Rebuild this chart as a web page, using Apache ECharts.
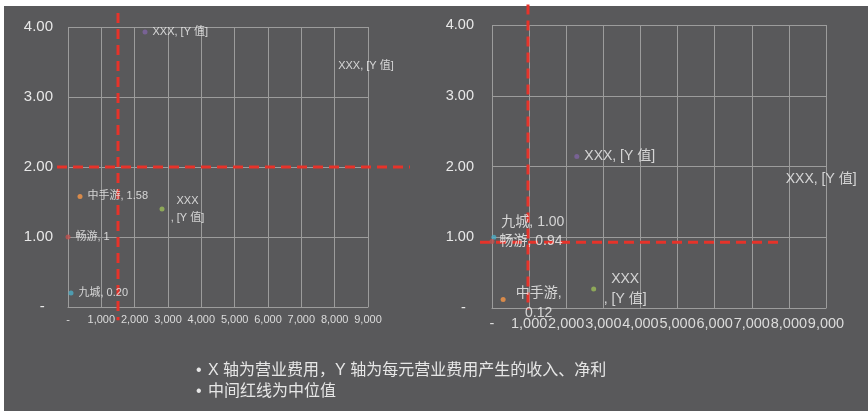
<!DOCTYPE html>
<html>
<head>
<meta charset="utf-8">
<script src="https://cdn.jsdelivr.net/npm/echarts@6/dist/echarts.min.js"></script>
<style>
html,body{margin:0;padding:0;background:#fff;}
#c{width:868px;height:411px;}
</style>
</head>
<body>
<div id="c"></div>
<script>
// ---- data ----
const pointColors = ['#4bacc6', '#c0504d', '#f79646', '#9bbb59', '#8064a2', '#4f81bd'];
const leftNames  = ['九城', '畅游', '中手游', 'XXX', 'XXX', 'XXX'];
const leftX      = [90, 0, 360, 2820, 2310, 8940];
const leftY      = [0.20, 1.00, 1.58, 1.40, 3.93, 3.44];
const leftLabels = ['九城, 0.20', '畅游, 1', '中手游, 1.58', 'XXX\n, [Y 值]', 'XXX, [Y 值]', 'XXX, [Y 值]'];
const rightNames  = ['九城', '畅游', '中手游', 'XXX', 'XXX', 'XXX'];
const rightX      = [50, 0, 300, 2740, 2285, 8870];
const rightY      = [1.00, 0.94, 0.12, 0.27, 2.14, 1.82];
const rightLabels = ['九城, 1.00', '畅游, 0.94', '中手游,\n0.12', 'XXX\n, [Y 值]', 'XXX, [Y 值]', 'XXX, [Y 值]'];
const leftMedianX = 1500, leftMedianY = 2.00;
const rightMedianX = 970, rightMedianY = 0.93;
const xMin = 0, xMax = 9000, xStep = 1000;
const yMin = 0, yMax = 4, yStep = 1;
const notes = ['X 轴为营业费用，Y 轴为每元营业费用产生的收入、净利', '中间红线为中位值'];

// ---- styles ----
const FONT = '"Liberation Sans", "Noto Sans CJK SC", sans-serif';
const BG = '#59595b';
const GRIDC = '#9c9c9c';
const RED = '#e6332a';

function xFmt(v){ return v === 0 ? '-' : v.toLocaleString('en-US'); }
function yFmt(v){ return v === 0 ? '-  ' : v.toFixed(2); }

const leftLabelCfg = [
  {position:'right', distance:5},
  {position:'right', distance:5},
  {position:'right', distance:5},
  {position:'right', distance:5, align:'center', offset:[18,0]},
  {position:'right', distance:5},
  {position:'inside'}
];
const rightLabelCfg = [
  {position:'right', distance:5, offset:[0,-15]},
  {position:'right', distance:5},
  {position:'right', distance:5, align:'center', offset:[28,4]},
  {position:'right', distance:5, align:'center', offset:[24,0]},
  {position:'right', distance:5},
  {position:'inside'}
];

function buildPoints(xs, ys, names, labels, cfg, fontSize, lh){
  return xs.map((x, i) => ({
    name: names[i],
    value: [x, ys[i]],
    symbolSize: i === 5 ? 0 : 5,
    itemStyle: {color: pointColors[i]},
    label: Object.assign({
      show: true,
      formatter: labels[i],
      color: '#f2f2f2',
      fontSize: fontSize,
      lineHeight: lh,
      fontFamily: FONT
    }, cfg[i])
  }));
}

function xAxisCfg(gi, fs, margin){
  return {
    gridIndex: gi, type: 'value', min: xMin, max: xMax, interval: xStep,
    axisLine: {show: true, lineStyle: {color: GRIDC, width: 1}},
    axisTick: {show: false},
    splitLine: {show: true, lineStyle: {color: GRIDC, width: 1}},
    axisLabel: {formatter: xFmt, fontSize: fs, color: '#dcdcdc', margin: margin, fontFamily: FONT,
                showMinLabel: true, showMaxLabel: true, hideOverlap: false}
  };
}
function yAxisCfg(gi, fs, margin){
  return {
    gridIndex: gi, type: 'value', min: yMin, max: yMax, interval: yStep,
    axisLine: {show: false},
    axisTick: {show: false},
    splitLine: {show: true, lineStyle: {color: GRIDC, width: 1}},
    axisLabel: {formatter: yFmt, fontSize: fs, color: '#e8e8e8', margin: margin, fontFamily: FONT,
                showMinLabel: true, showMaxLabel: true}
  };
}

const baseGraphic = [
  {id: 'wt', type: 'rect', left: 0, top: 0, shape: {width: 868, height: 6}, style: {fill: '#ffffff'}, silent: true},
  {id: 'wl', type: 'rect', left: 0, top: 0, shape: {width: 4, height: 411}, style: {fill: '#ffffff'}, silent: true},
  {id: 'b1', type: 'text', left: 196, top: 363, style: {text: '•', fill: '#e6e6e6', font: '16px ' + FONT}},
  {id: 'n1', type: 'text', left: 208, top: 363, style: {text: notes[0], fill: '#e6e6e6', font: '16px ' + FONT}},
  {id: 'b2', type: 'text', left: 196, top: 384, style: {text: '•', fill: '#e6e6e6', font: '16px ' + FONT}},
  {id: 'n2', type: 'text', left: 208, top: 384, style: {text: notes[1], fill: '#e6e6e6', font: '16px ' + FONT}}
];

const chart = echarts.init(document.getElementById('c'), null, {renderer: 'canvas'});
chart.setOption({
  backgroundColor: BG,
  animation: false,
  textStyle: {fontFamily: FONT},
  grid: [
    {left: 68, top: 27, width: 300, height: 280},
    {left: 492, top: 25, width: 334, height: 283}
  ],
  xAxis: [xAxisCfg(0, 11, 7), xAxisCfg(1, 14.5, 9)],
  yAxis: [yAxisCfg(0, 15, 15), yAxisCfg(1, 14.5, 18)],
  graphic: baseGraphic,
  series: [
    {
      type: 'scatter', xAxisIndex: 0, yAxisIndex: 0, z: 5,
      data: buildPoints(leftX, leftY, leftNames, leftLabels, leftLabelCfg, 11, 17)
    },
    {
      type: 'scatter', xAxisIndex: 1, yAxisIndex: 1, z: 5,
      data: buildPoints(rightX, rightY, rightNames, rightLabels, rightLabelCfg, 14, 20)
    }
  ]
});

// median (red dashed) lines, positioned through the grids' own scales
const medianSegs = [
  {grid: 0, a: [leftMedianX, 4.2],  b: [leftMedianX, -0.19]},
  {grid: 0, a: [-330, leftMedianY], b: [10260, leftMedianY]},
  {grid: 1, a: [rightMedianX, 4.29], b: [rightMedianX, -0.02]},
  {grid: 1, a: [-323, rightMedianY], b: [7742, rightMedianY]}
];
const lines = medianSegs.map((s, i) => {
  const p1 = chart.convertToPixel({gridIndex: s.grid}, s.a);
  const p2 = chart.convertToPixel({gridIndex: s.grid}, s.b);
  return {
    id: 'med' + i, type: 'line', z: 3, silent: true,
    shape: {x1: p1[0], y1: p1[1], x2: p2[0], y2: p2[1]},
    style: {stroke: RED, lineWidth: 3, lineDash: [10, 6]}
  };
});
chart.setOption({graphic: baseGraphic.concat(lines)});
</script>
</body>
</html>
